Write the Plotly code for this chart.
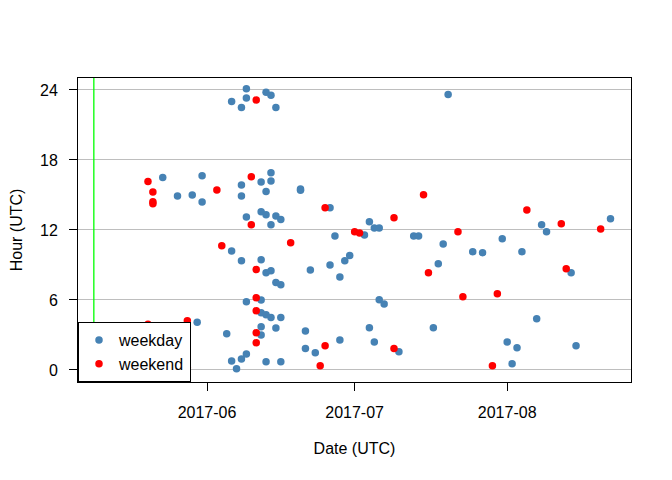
import plotly.graph_objects as go

# ---- data ----
weekday_dates = [
    "2017-05-23", "2017-05-26", "2017-05-29", "2017-05-30", "2017-05-31", "2017-05-31",
    "2017-06-05", "2017-06-06", "2017-06-06", "2017-06-06", "2017-06-07",
    "2017-06-08", "2017-06-08", "2017-06-08", "2017-06-08", "2017-06-08",
    "2017-06-09", "2017-06-09", "2017-06-09", "2017-06-09", "2017-06-09",
    "2017-06-12", "2017-06-12", "2017-06-12", "2017-06-12", "2017-06-12", "2017-06-12", "2017-06-12",
    "2017-06-13", "2017-06-13", "2017-06-13", "2017-06-13", "2017-06-13", "2017-06-13",
    "2017-06-14", "2017-06-14", "2017-06-14", "2017-06-14", "2017-06-14", "2017-06-14",
    "2017-06-15", "2017-06-15", "2017-06-15", "2017-06-15",
    "2017-06-16", "2017-06-16", "2017-06-16", "2017-06-16",
    "2017-06-20", "2017-06-20", "2017-06-21", "2017-06-21", "2017-06-22", "2017-06-23",
    "2017-06-26", "2017-06-26", "2017-06-27", "2017-06-28", "2017-06-28", "2017-06-29", "2017-06-30",
    "2017-07-03", "2017-07-04", "2017-07-04", "2017-07-05", "2017-07-05", "2017-07-06", "2017-07-06",
    "2017-07-07", "2017-07-10", "2017-07-13", "2017-07-14", "2017-07-17", "2017-07-18", "2017-07-19",
    "2017-07-20", "2017-07-25", "2017-07-27", "2017-07-31", "2017-08-01", "2017-08-02", "2017-08-03",
    "2017-08-04", "2017-08-07", "2017-08-08", "2017-08-09", "2017-08-14", "2017-08-15", "2017-08-22",
]
weekday_hours = [
    16.5, 14.9, 15.0, 4.1, 16.65, 14.4,
    3.1, 23.0, 10.2, 0.77, 0.1,
    22.5, 15.85, 14.9, 9.35, 0.94,
    24.1, 23.3, 13.1, 5.85, 1.37,
    16.1, 13.56, 9.45, 6.0, 4.9, 3.7, 3.0,
    23.8, 15.3, 13.3, 8.34, 4.74, 0.7,
    23.55, 16.9, 16.2, 12.45, 8.5, 4.5,
    22.5, 13.2, 7.5, 3.6,
    12.9, 7.3, 4.5, 0.7,
    15.4, 15.5, 3.34, 1.83, 8.57, 1.48,
    13.9, 9.0, 11.48, 7.97, 2.57, 9.37, 9.8,
    11.57, 12.7, 3.62, 12.17, 2.4, 12.17, 6.02,
    5.65, 1.57, 11.48, 11.48, 3.62, 9.1, 10.8,
    23.6, 10.14, 10.05, 11.25, 2.4, 0.54, 1.91,
    10.14, 4.4, 12.45, 11.85, 8.34, 2.08, 12.96,
]

weekend_dates = [
    "2017-05-20", "2017-05-20", "2017-05-21", "2017-05-21", "2017-05-21",
    "2017-05-28", "2017-05-28", "2017-06-03", "2017-06-04",
    "2017-06-10", "2017-06-10",
    "2017-06-11", "2017-06-11", "2017-06-11", "2017-06-11", "2017-06-11", "2017-06-11",
    "2017-06-18", "2017-06-24", "2017-06-25", "2017-06-25",
    "2017-07-01", "2017-07-02", "2017-07-09", "2017-07-09",
    "2017-07-15", "2017-07-16", "2017-07-22", "2017-07-23",
    "2017-07-29", "2017-07-30", "2017-08-05", "2017-08-12", "2017-08-13", "2017-08-20",
]
weekend_hours = [
    16.16, 3.92, 15.25, 14.42, 14.25,
    4.22, 0.2, 15.42, 10.65,
    16.56, 12.45,
    23.14, 8.6, 6.2, 5.08, 3.2, 2.34,
    10.91, 0.37, 13.91, 2.08,
    11.85, 11.74, 13.05, 1.83,
    15.02, 8.34, 11.85, 6.28,
    0.37, 6.54, 13.71, 12.54, 8.68, 12.08,
]

marker_line_date = "2017-05-09"
x_tick_vals = ["2017-06-01", "2017-07-01", "2017-08-01"]
x_tick_text = ["2017-06", "2017-07", "2017-08"]
y_tick_vals = [0, 6, 12, 18, 24]

FONT = "Liberation Sans, Arial, sans-serif"

fig = go.Figure()
fig.add_trace(go.Scatter(
    x=weekday_dates, y=weekday_hours, mode="markers", name="weekday",
    marker=dict(color="#4682B4", size=7.5, line=dict(width=0)),
))
fig.add_trace(go.Scatter(
    x=weekend_dates, y=weekend_hours, mode="markers", name="weekend",
    marker=dict(color="#FF0000", size=7.5, line=dict(width=0)),
))

fig.add_shape(type="line", xref="x", yref="paper", x0=marker_line_date, x1=marker_line_date,
              y0=0, y1=1, line=dict(color="#00FF00", width=1.3), layer="above")

# the page body adds an 8px offset, so margins are reduced by 8 on the left/top
fig.update_layout(
    template="none",
    width=672, height=480,
    margin=dict(l=70, r=49, t=70, b=106, autoexpand=False),
    paper_bgcolor="white", plot_bgcolor="white",
    font=dict(family=FONT, size=16, color="black"),
    showlegend=True,
    legend=dict(
        x=0, y=0, xanchor="left", yanchor="bottom",
        bgcolor="white", bordercolor="black", borderwidth=1,
        font=dict(family=FONT, size=16, color="black"),
        itemwidth=30, tracegroupgap=0,
    ),
    xaxis=dict(
        type="date", automargin=False,
        range=["2017-05-05 18:43", "2017-08-26 04:00"],
        tickvals=x_tick_vals, ticktext=x_tick_text,
        showgrid=False, zeroline=False,
        showline=True, mirror=True, linecolor="black", linewidth=1,
        ticks="outside", ticklen=8, tickcolor="black", tickwidth=1,
        ticklabelstandoff=8,
        title=dict(text="Date (UTC)", standoff=22, font=dict(size=16)),
    ),
    yaxis=dict(
        automargin=False,
        range=[-1.03, 25.02],
        tickvals=y_tick_vals,
        showgrid=True, gridcolor="#BEBEBE", gridwidth=1, zeroline=False,
        showline=True, mirror=True, linecolor="black", linewidth=1,
        ticks="outside", ticklen=8, tickcolor="black", tickwidth=1,
        ticklabelstandoff=8,
        title=dict(text="Hour (UTC)", standoff=21, font=dict(size=16)),
    ),
)

fig.write_html("out.html")
